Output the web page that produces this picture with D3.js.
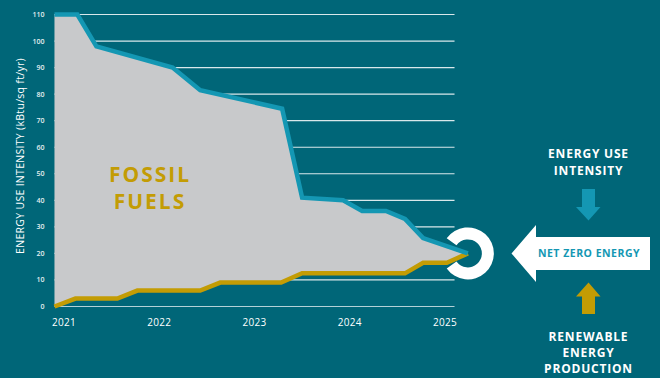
<!DOCTYPE html>
<html>
<head>
<meta charset="utf-8">
<script src="https://cdn.jsdelivr.net/npm/d3@7"></script>
<style>
  html, body { margin: 0; padding: 0; background: #006678; }
  svg { display: block; }
</style>
</head>
<body>
<div id="chart"></div>
<script>
var w = 660, h = 378;

// energy use intensity (blue line)
var euiYears = [2020.9, 2021.14, 2021.34, 2022.14, 2022.43, 2023.29, 2023.5, 2023.93, 2024.13, 2024.38, 2024.58, 2024.77, 2025.24];
var euiValues = [110, 110, 98, 90, 81.5, 74.5, 41, 40, 36, 36, 33, 25.8, 20];

// renewable energy production (gold line)
var renYears = [2020.9, 2021.12, 2021.56, 2021.77, 2022.43, 2022.64, 2023.28, 2023.5, 2024.58, 2024.77, 2025.02, 2025.24];
var renValues = [0, 3, 3, 6, 6, 9, 9, 12.5, 12.5, 16.5, 16.5, 20];

var yearTicks = [2021, 2022, 2023, 2024, 2025];
var yTicks = [0, 10, 20, 30, 40, 50, 60, 70, 80, 90, 100, 110];

var bg = "#006678", blue = "#1497b3", gold = "#c39c04", grey = "#c8c9cb";
var font = "'Open Sans', sans-serif";

var svg = d3.select("#chart").append("svg").attr("width", w).attr("height", h);
svg.append("rect").attr("width", w).attr("height", h).attr("fill", bg);

var x = d3.scaleLinear().domain([2021, 2025]).range([64, 445]);
var y = d3.scaleLinear().domain([0, 110]).range([306.5, 14.5]);

var eui = euiYears.map(function (d, i) { return [d, euiValues[i]]; });
var ren = renYears.map(function (d, i) { return [d, renValues[i]]; });

// grid
var gx0 = x(euiYears[0]), gx1 = x(2025.1);
svg.append("g").selectAll("line").data(yTicks).join("line")
    .attr("x1", gx0).attr("x2", gx1)
    .attr("y1", function (d) { return y(d); }).attr("y2", function (d) { return y(d); })
    .attr("stroke", "#ffffff").attr("stroke-opacity", function (d) { return d == 0 ? 0.7 : 0.85; })
    .attr("stroke-width", 1.2);

// y tick labels
svg.append("g").selectAll("text").data(yTicks).join("text")
    .attr("x", 44.5).attr("y", function (d) { return y(d) + 2.5; })
    .attr("text-anchor", "end").attr("fill", "#e6eef0")
    .attr("font-family", font).attr("font-size", "7px").attr("font-weight", 600)
    .text(function (d) { return d; });

// x tick labels
svg.append("g").selectAll("text").data(yearTicks).join("text")
    .attr("x", function (d) { return x(d); }).attr("y", 326)
    .attr("text-anchor", "middle").attr("fill", "#ffffff")
    .attr("font-family", font).attr("font-size", "10px").attr("letter-spacing", "0.3px")
    .text(function (d) { return d; });

// y title
svg.append("text")
    .attr("transform", "translate(24,156) rotate(-90)")
    .attr("text-anchor", "middle").attr("fill", "#ffffff")
    .attr("font-family", font).attr("font-size", "10.5px").attr("letter-spacing", "0.3px")
    .text("ENERGY USE INTENSITY (kBtu/sq ft/yr)");

// fossil area between the two lines
var line = d3.line().x(function (d) { return x(d[0]); }).y(function (d) { return y(d[1]); });
svg.append("path")
    .attr("d", line(eui.concat(ren.slice().reverse())) + "Z")
    .attr("fill", grey);

svg.append("path").attr("d", line(ren)).attr("fill", "none")
    .attr("stroke", gold).attr("stroke-width", 4.5).attr("stroke-linejoin", "miter");
svg.append("path").attr("d", line(eui)).attr("fill", "none")
    .attr("stroke", blue).attr("stroke-width", 4.5).attr("stroke-linejoin", "miter");

// FOSSIL FUELS label
svg.append("text").attr("x", 150).attr("y", 182).attr("text-anchor", "middle")
    .attr("fill", gold).attr("font-family", font).attr("font-size", "21px").attr("font-weight", 700)
    .attr("letter-spacing", "2px").text("FOSSIL");
svg.append("text").attr("x", 150).attr("y", 209).attr("text-anchor", "middle")
    .attr("fill", gold).attr("font-family", font).attr("font-size", "21px").attr("font-weight", 700)
    .attr("letter-spacing", "2px").text("FUELS");

// ring at net zero point
var last = eui[eui.length - 1];
var cx = x(last[0]), cy = y(last[1]);
var arc = d3.arc().innerRadius(14).outerRadius(26)
    .startAngle(-Math.PI / 2 + 0.62).endAngle(3 * Math.PI / 2 - 0.62);
svg.append("path").attr("transform", "translate(" + cx + "," + cy + ")")
    .attr("d", arc()).attr("fill", "#ffffff");

// big arrow NET ZERO ENERGY
var ay = cy;
svg.append("path")
    .attr("d", "M 511.5 " + ay + " L 536 " + (ay - 28.5) + " L 536 " + (ay - 16.5) +
        " L 650 " + (ay - 16.5) + " L 650 " + (ay + 16.5) + " L 536 " + (ay + 16.5) +
        " L 536 " + (ay + 28.5) + " Z")
    .attr("fill", "#ffffff");
svg.append("text").attr("x", 589).attr("y", ay + 4).attr("text-anchor", "middle")
    .attr("fill", blue).attr("font-family", font).attr("font-size", "10.5px").attr("font-weight", 700)
    .attr("letter-spacing", "0.5px")
    .text("NET ZERO ENERGY");

// small arrows
svg.append("path")
    .attr("d", "M 582 189 L 595 189 L 595 207 L 600.5 207 L 588.5 220.5 L 576 207 L 582 207 Z")
    .attr("fill", blue);
svg.append("path")
    .attr("d", "M 582 314 L 595 314 L 595 296.5 L 600.5 296.5 L 588.5 282.5 L 576 296.5 L 582 296.5 Z")
    .attr("fill", gold);

function block(lines, y0, step) {
    lines.forEach(function (t, i) {
        svg.append("text").attr("x", 588.5).attr("y", y0 + i * step).attr("text-anchor", "middle")
            .attr("fill", "#ffffff").attr("font-family", font).attr("font-size", "12px").attr("font-weight", 700)
            .attr("letter-spacing", "0.8px")
            .text(t);
    });
}
block(["ENERGY USE", "INTENSITY"], 158, 17);
block(["RENEWABLE", "ENERGY", "PRODUCTION"], 341, 16);
</script>
</body>
</html>
